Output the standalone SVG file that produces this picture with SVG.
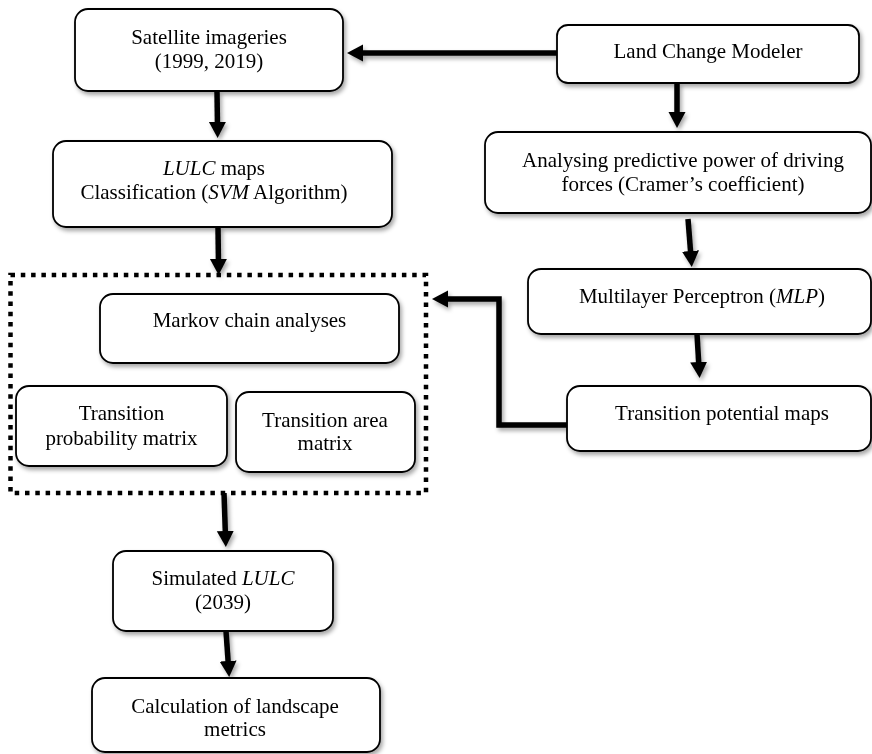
<svg xmlns="http://www.w3.org/2000/svg" width="872" height="754" viewBox="0 0 872 754">
<style>
.box{fill:#fff;stroke:#000;stroke-width:1.8}
.t{font-family:"Liberation Serif","Times New Roman",serif;font-size:21px;fill:#000;text-anchor:middle}
.i{font-style:italic}
.c{fill:none;stroke:#000;stroke-width:5.5}
.dot{fill:none;stroke:#000;stroke-width:4.5;stroke-dasharray:4.5 5.8}
</style>
<defs>
<filter id="sh" x="-10%" y="-10%" width="130%" height="140%">
<feDropShadow dx="2" dy="3" stdDeviation="2" flood-color="#000" flood-opacity="0.35"/>
</filter>
<marker id="ah" markerUnits="userSpaceOnUse" markerWidth="17" markerHeight="18" refX="6" refY="8.5" orient="auto">
<path d="M0,0 L16,8.5 L0,17 z" fill="#000"/>
</marker>
</defs>
<rect width="872" height="754" fill="#fff"/>
<g id="connectors" filter="url(#sh)">
<path class="c" d="M557,53 L357,53" marker-end="url(#ah)"/>
<path class="c" d="M217,91 L217.5,128" marker-end="url(#ah)"/>
<path class="c" d="M218,227 L218.5,265" marker-end="url(#ah)"/>
<path class="c" d="M677,83 L677,118" marker-end="url(#ah)"/>
<path class="c" d="M688,219 L691,257" marker-end="url(#ah)"/>
<path class="c" d="M697,334 L699,368" marker-end="url(#ah)"/>
<path class="c" d="M567,425 L499,425 L499,299 L442,299" marker-end="url(#ah)"/>
<path class="c" d="M224,493 L225.5,537" marker-end="url(#ah)"/>
<path class="c" d="M226,631 L228.5,667" marker-end="url(#ah)"/>
</g>
<g id="group-markov">
<rect class="dot" x="10.5" y="275" width="415.5" height="218"/>
</g>
<g id="n-satellite" filter="url(#sh)">
<rect class="box" x="75" y="9" width="268" height="82" rx="13"/>
<text class="t" x="209" y="44">Satellite imageries</text>
<text class="t" x="209" y="68">(1999, 2019)</text>
</g>
<g id="n-lulc" filter="url(#sh)">
<rect class="box" x="53" y="141" width="339" height="86" rx="13"/>
<text class="t" x="214" y="175"><tspan class="i">LULC</tspan> maps</text>
<text class="t" x="214" y="199">Classification (<tspan class="i">SVM</tspan> Algorithm)</text>
</g>
<g id="n-markov" filter="url(#sh)">
<rect class="box" x="100" y="294" width="299" height="69" rx="13"/>
<text class="t" x="249.5" y="327">Markov chain analyses</text>
</g>
<g id="n-tpm" filter="url(#sh)">
<rect class="box" x="16" y="386" width="211" height="80" rx="13"/>
<text class="t" x="121.5" y="420">Transition</text>
<text class="t" x="121.5" y="445">probability matrix</text>
</g>
<g id="n-tam" filter="url(#sh)">
<rect class="box" x="236" y="392" width="179" height="80" rx="13"/>
<text class="t" x="325" y="427">Transition area</text>
<text class="t" x="325" y="450">matrix</text>
</g>
<g id="n-lcm" filter="url(#sh)">
<rect class="box" x="557" y="25" width="302" height="58" rx="11"/>
<text class="t" x="708" y="58">Land Change Modeler</text>
</g>
<g id="n-analysing" filter="url(#sh)">
<rect class="box" x="485" y="132" width="386" height="81" rx="13"/>
<text class="t" x="683" y="167">Analysing predictive power of driving</text>
<text class="t" x="683" y="191">forces (Cramer’s coefficient)</text>
</g>
<g id="n-mlp" filter="url(#sh)">
<rect class="box" x="528" y="269" width="343" height="65" rx="13"/>
<text class="t" x="702" y="303">Multilayer Perceptron (<tspan class="i">MLP</tspan>)</text>
</g>
<g id="n-tpmaps" filter="url(#sh)">
<rect class="box" x="567" y="386" width="304" height="65" rx="13"/>
<text class="t" x="722" y="420">Transition potential maps</text>
</g>
<g id="n-simulated" filter="url(#sh)">
<rect class="box" x="113" y="551" width="220" height="80" rx="13"/>
<text class="t" x="223" y="585">Simulated <tspan class="i">LULC</tspan></text>
<text class="t" x="223" y="609">(2039)</text>
</g>
<g id="n-calc" filter="url(#sh)">
<rect class="box" x="92" y="678" width="288" height="74" rx="13"/>
<text class="t" x="235" y="713">Calculation of landscape</text>
<text class="t" x="235" y="736">metrics</text>
</g>
</svg>
